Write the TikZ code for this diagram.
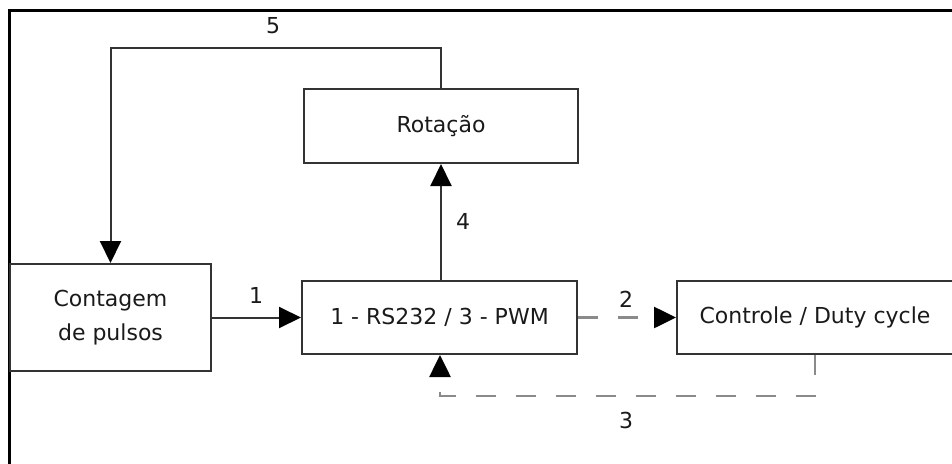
\documentclass[tikz,border=0pt]{standalone}
\usepackage{fontspec}
\setmainfont{DejaVu Sans}
\usetikzlibrary{arrows.meta,positioning}
\definecolor{boxline}{HTML}{333333}
\definecolor{dashgray}{HTML}{8A8A8A}
\definecolor{txt}{HTML}{1A1A1A}
\tikzset{
  blk/.style={draw=boxline, line width=2pt, fill=white, minimum width=#1, text=txt, inner sep=0pt, align=center},
  lbl/.style={text=txt, inner sep=0pt},
  conn/.style={draw=boxline, line width=2pt},
  dconn/.style={draw=dashgray, line width=2.6pt, dash pattern=on 20pt off 20pt},
  tip/.style={-{Triangle[length=22pt,width=21pt,black]}},
  frame/.style={draw=black, line width=3pt}
}
\begin{document}
\begin{tikzpicture}[x=1pt,y=-1pt,font=\fontsize{22}{34}\selectfont]
\useasboundingbox (0,0) rectangle (952,463);
\clip (0,0) rectangle (952,463);
\draw[frame] (9,480) |- (970,10);
% nodes
\node[blk=201pt, minimum height=107pt] (cont) at (110.5,317.5) {Contagem\\de pulsos};
\node[blk=274pt, minimum height=74pt] (rot) at (441,126) {Rotação};
\node[blk=275pt, minimum height=73pt] (rs) at (439.5,317.5) {1 - RS232 / 3 - PWM};
\node[blk=276pt, minimum height=73pt] (ctl) at (815,317.5) {Controle / Duty cycle};
% coordinates
\coordinate (c5) at (110.5,48);
\coordinate (c3) at (440,396);
% connectors
\draw[conn,tip] (cont.east) -- (rs.west);
\draw[conn,tip] (rot.south |- rs.north) -- (rot.south);
\draw[conn,tip] (rot.north) |- (c5) -- (cont.north);
\draw[dconn,tip] (rs.east) -- (ctl.west);
\draw[dconn,tip] (ctl.south) |- (c3) -- (c3 |- rs.south);
% labels
\node[lbl] (l1) at (256,295) {1};
\node[lbl] (l2) at (626,299) {2};
\node[lbl] (l3) at (626,420) {3};
\node[lbl] (l4) at (463,221) {4};
\node[lbl] (l5) at (273,26) {5};
\end{tikzpicture}
\end{document}
